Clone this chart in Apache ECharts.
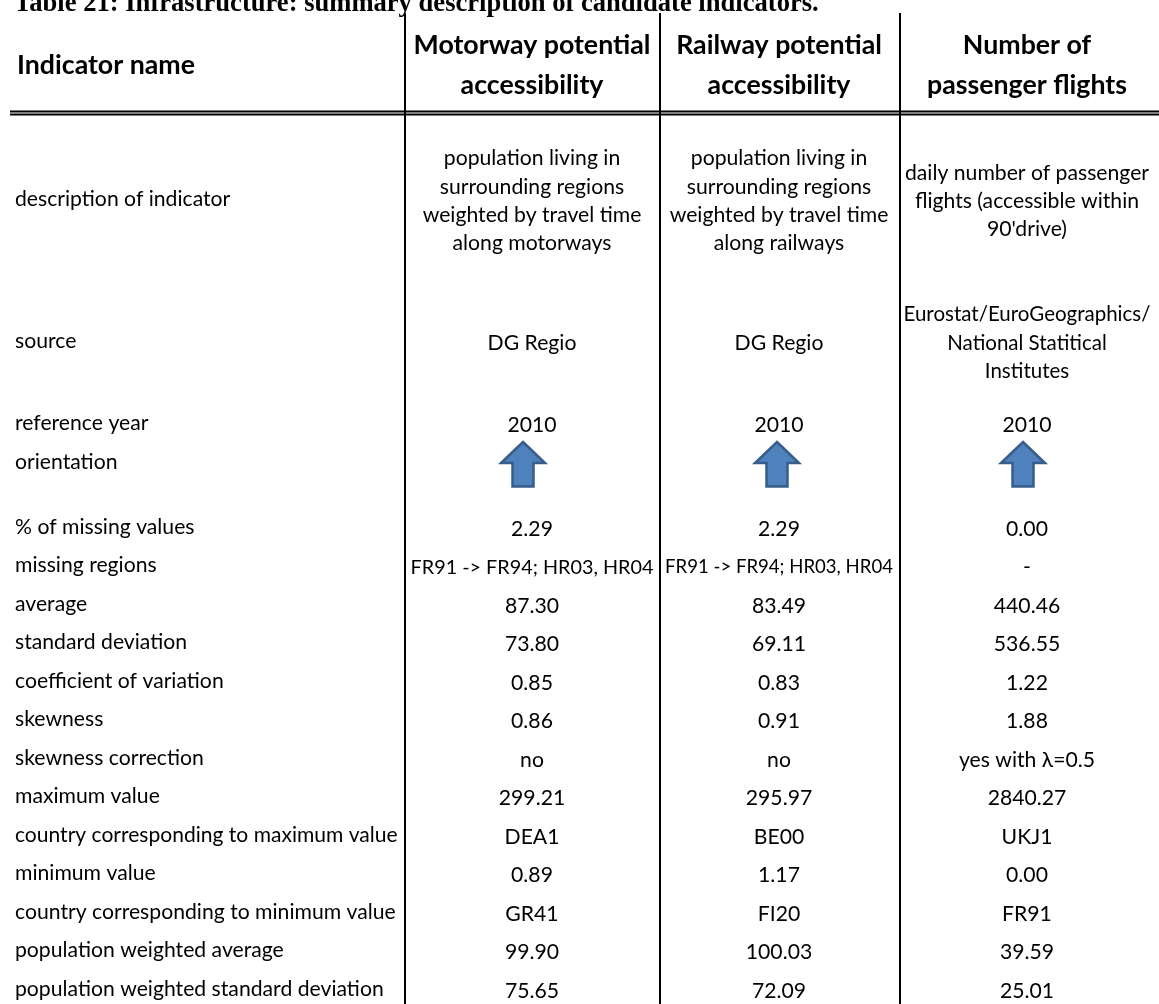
<!DOCTYPE html>
<html><head><meta charset="utf-8">
<script src="https://cdn.jsdelivr.net/npm/echarts@6/dist/echarts.min.js"></script>
<style>html,body{margin:0;padding:0;background:#fff}#c{width:1159px;height:1004px}</style>
</head><body><div id="c"></div>
<script>
// ---------- data ----------
const titleText = 'Table 21: Infrastructure: summary description of candidate indicators.';
const headers = ['Indicator name', 'Motorway potential\naccessibility', 'Railway potential\naccessibility', 'Number of\npassenger flights'];
const rowLabels = ['description of indicator', 'source', 'reference year', 'orientation', '% of missing values', 'missing regions', 'average', 'standard deviation', 'coefficient of variation', 'skewness', 'skewness correction', 'maximum value', 'country corresponding to maximum value', 'minimum value', 'country corresponding to minimum value', 'population weighted average', 'population weighted standard deviation'];
const motorway = ['population living in\nsurrounding regions\nweighted by travel time\nalong motorways', 'DG Regio', '2010', 'up', '2.29', 'FR91 -> FR94; HR03, HR04', '87.30', '73.80', '0.85', '0.86', 'no', '299.21', 'DEA1', '0.89', 'GR41', '99.90', '75.65'];
const railway = ['population living in\nsurrounding regions\nweighted by travel time\nalong railways', 'DG Regio', '2010', 'up', '2.29', 'FR91 -> FR94; HR03, HR04', '83.49', '69.11', '0.83', '0.91', 'no', '295.97', 'BE00', '1.17', 'FI20', '100.03', '72.09'];
const flights = ['daily number of passenger\nflights (accessible within\n90\'drive)', 'Eurostat/EuroGeographics/\nNational Statitical\nInstitutes', '2010', 'up', '0.00', '-', '440.46', '536.55', '1.22', '1.88', 'yes with \u03bb=0.5', '2840.27', 'UKJ1', '0.00', 'FR91', '39.59', '25.01'];

// ---------- layout (table geometry in axis units = px) ----------
const W = 1159, H = 1004;
const colBounds = [405, 660, 900];
const cellWidth = [395, 255, 240, 259];
const colX = [15, 532, 779, 1027];
const arrowX = [0, 523, 777, 1023];
const headerY = 65;
const rowY = [201, 343, 425, 464];
for (let i = 0; i < 13; i++) rowY.push(529 + i * 38.5);
const hLines = [111.5, 114.5];

// ---------- fonts fitted to measured widths ----------
const mctx = document.createElement('canvas').getContext('2d');
function widthAt100(text, family, weight) {
  mctx.font = weight + ' 100px ' + family;
  return Math.max.apply(null, text.split('\n').map(s => mctx.measureText(s).width));
}
function fit(text, family, weight, target) { return 100 * target / widthAt100(text, family, weight); }
const BODY_FONT = 'Lato';
const bodySize = fit('population weighted standard deviation', BODY_FONT, 'normal', 369);
const headSize = fit('Motorway potential', BODY_FONT, 'bold', 237);
const titleSize = fit(titleText, '"Liberation Serif"', 'bold', 805);
function cellSize(text, c) {
  const w = widthAt100(text, BODY_FONT, 'normal') * bodySize / 100;
  const maxW = cellWidth[c] - 12;
  return w > maxW ? bodySize * maxW / w : bodySize;
}

const columns = [rowLabels, motorway, railway, flights];
const cells = [];
columns.forEach((col, c) => col.forEach((t, r) => cells.push({ c, r, t })));
const headCells = headers.map((t, c) => ({ c, t }));

const chart = echarts.init(document.getElementById('c'), null, { renderer: 'canvas' });
chart.setOption({
  animation: false,
  backgroundColor: '#fff',
  grid: { left: 0, right: 0, top: 0, bottom: 0 },
  xAxis: { type: 'value', min: 0, max: W, show: false },
  yAxis: { type: 'value', min: 0, max: H, inverse: true, show: false },
  graphic: [{
    type: 'text', left: 14, top: 14 - titleSize * 0.88,
    style: { text: titleText, fontFamily: '"Liberation Serif", "Times New Roman", serif', fontWeight: 'bold', fontSize: titleSize, fill: '#000' }
  }],
  series: [
    { // vertical rules
      type: 'custom', silent: true,
      data: colBounds.map(x => [x, 13]),
      renderItem(params, api) {
        const a = api.coord([api.value(0), api.value(1)]);
        const b = api.coord([api.value(0), H]);
        return { type: 'line', shape: { x1: a[0], y1: a[1], x2: b[0], y2: b[1] }, style: { stroke: '#000', lineWidth: 2 } };
      }
    },
    { // double header rule
      type: 'custom', silent: true,
      data: hLines.map(y => [10, y]),
      renderItem(params, api) {
        const a = api.coord([api.value(0), api.value(1)]);
        const b = api.coord([W, api.value(1)]);
        return { type: 'line', shape: { x1: a[0], y1: a[1], x2: b[0], y2: b[1] }, style: { stroke: '#000', lineWidth: 2 } };
      }
    },
    { // header cells
      type: 'custom', silent: true,
      data: headCells.map(h => [colX[h.c] + (h.c === 0 ? 2 : 0), headerY]),
      renderItem(params, api) {
        const h = headCells[params.dataIndex];
        const p = api.coord([api.value(0), api.value(1)]);
        return { type: 'text', x: p[0], y: p[1], style: {
          text: h.t, fontFamily: BODY_FONT + ', "Noto Sans", sans-serif', fontWeight: 'bold', fontSize: headSize,
          fill: '#000', align: h.c === 0 ? 'left' : 'center', verticalAlign: 'middle', lineHeight: 40 } };
      }
    },
    { // body cells
      type: 'custom', silent: true,
      data: cells.map(cl => [cl.t === 'up' ? arrowX[cl.c] : colX[cl.c], rowY[cl.r] + (cl.c === 0 ? -2 : 0)]),
      renderItem(params, api) {
        const cl = cells[params.dataIndex];
        const p = api.coord([api.value(0), api.value(1)]);
        if (cl.t === 'up') {
          const x = p[0], y = p[1];
          return { type: 'polygon', shape: { points: [
            [x, y - 22], [x + 22, y - 1], [x + 10.5, y - 1], [x + 10.5, y + 22.5],
            [x - 10.5, y + 22.5], [x - 10.5, y - 1], [x - 22, y - 1]] },
            style: { fill: '#4F81BD', stroke: '#385D8A', lineWidth: 2.5, lineJoin: 'miter' } };
        }
        return { type: 'text', x: p[0], y: p[1], style: {
          text: cl.t, fontFamily: BODY_FONT + ', "Noto Sans", sans-serif', fontSize: cellSize(cl.t, cl.c),
          fill: '#000', align: cl.c === 0 ? 'left' : 'center', verticalAlign: 'middle', lineHeight: 28.3 } };
      }
    }
  ]
});
</script></body></html>
